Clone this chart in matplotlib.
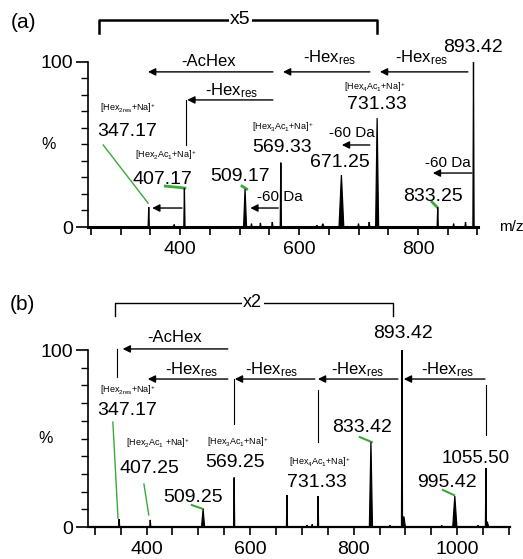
import matplotlib
matplotlib.use('Agg')
import matplotlib.pyplot as plt

# ---- panel (a): peaks
mz_a = [347.17, 390, 407.17, 509.17, 520, 535, 555, 569.33, 630, 640,
        671.25, 700, 718, 731.33, 833.25, 860, 880, 893.42]
int_a = [12, 1.5, 23.5, 23, 2, 2.5, 3, 39, 1, 2,
         31.5, 2, 3, 66, 12, 2, 3, 100]
hw_a = [1, 1, 1, 2.5, 1, 1, 1, 1, 2, 2, 4, 1, 1, 2.5, 1, 1, 1, 1]

# ---- panel (b): peaks
mz_b = [347.17, 407.25, 509.25, 569.25, 671.25, 710, 720, 731.33, 833.42,
        870, 893.42, 897, 970, 995.42, 1040, 1055.50, 1058]
int_b = [4.5, 4, 10, 28, 18, 1, 1.5, 17.5, 48,
         1, 100, 6, 1, 17.5, 1, 33.5, 3]
hw_b = [1, 1, 3, 1, 1, 1, 1, 1, 3, 1, 1, 3, 1, 4, 1, 1, 3]

ticks_a = [400, 600, 800]
ticks_b = [400, 600, 800, 1000]

plt.rcParams['font.family'] = 'Liberation Sans'
plt.rcParams['mathtext.fontset'] = 'custom'
plt.rcParams['mathtext.rm'] = 'Liberation Sans'
plt.rcParams['mathtext.it'] = 'Liberation Sans:italic'

GREEN = '#3aa83a'
BIG = 14
MID = 12
SMALL = 6.5

fig = plt.figure(figsize=(5.23, 5.59), dpi=100)
W, H = 523, 559
ax_a = fig.add_axes([88 / W, 1 - 227 / H, 390 / W, 217 / H])
ax_b = fig.add_axes([88 / W, 1 - 527 / H, 422 / W, 237 / H])


def setup(ax, xlim, ytop, ticks, base_lw):
    ax.set_xlim(*xlim)
    ax.set_ylim(0, ytop)
    for s in ['top', 'right']:
        ax.spines[s].set_visible(False)
    ax.spines['left'].set_bounds(0, 100)
    ax.spines['left'].set_linewidth(1.2)
    ax.spines['bottom'].set_linewidth(base_lw)
    ax.set_xticks(ticks)
    ax.set_xticks(range(int(xlim[0] // 50 + 1) * 50, int(xlim[1]) + 1, 50), minor=True)
    ax.set_yticks([0, 100])
    ax.set_yticks(range(10, 100, 10), minor=True)
    ax.tick_params(axis='x', which='both', direction='out', length=6, width=1.2,
                   labelsize=14, pad=4)
    ax.tick_params(axis='y', which='major', direction='out', length=9, width=1.2,
                   labelsize=14, pad=2)
    ax.tick_params(axis='y', which='minor', direction='out', length=5, width=1.0)
    ax.text(-0.1, 50, '%', transform=ax.get_yaxis_transform(), ha='center',
            va='center', fontsize=11.5)


def peaks(ax, mz, inten, hw):
    for m, h, w in zip(mz, inten, hw):
        ax.fill([m - w, m, m + w], [0, h, 0], color='k', lw=0.9, zorder=3)


def arrow(ax, x0, x1, y):
    ax.annotate('', xy=(x1, y), xytext=(x0, y),
                arrowprops=dict(arrowstyle='-|>', color='k', lw=1.0,
                                mutation_scale=11, shrinkA=0, shrinkB=0))


def txt(ax, x, y, s, size=BIG):
    ax.text(x, y, s, ha='center', va='center', fontsize=size)


hexres = r'-Hex$_{\mathrm{res}}$'

# ================= (a)
setup(ax_a, (245, 901), 131.5, ticks_a, 2.2)
peaks(ax_a, mz_a, int_a, hw_a)

ax_a.plot([264, 264, 731, 731], [117.6, 125.5, 125.5, 117.6], color='k', lw=1.8,
          clip_on=False)
ax_a.text(501, 125.5, 'x5', ha='center', va='center', fontsize=14,
          bbox=dict(fc='white', ec='none', pad=1))

txt(ax_a, 447, 100, '-AcHex', MID)
arrow(ax_a, 556, 346, 94)
txt(ax_a, 652, 102.4, hexres, MID)
arrow(ax_a, 719, 573, 94)
txt(ax_a, 806, 102.4, hexres, MID)
arrow(ax_a, 884, 736, 94)
txt(ax_a, 893, 109, '893.42')

txt(ax_a, 487, 82.4, hexres, MID)
arrow(ax_a, 556, 412, 77)
ax_a.plot([410, 410], [77, 49.7], color='k', lw=0.8)

txt(ax_a, 313, 72, r'[Hex$_{\mathrm{2res}}$+Na]$^{+}$', SMALL)
txt(ax_a, 311, 58, '347.17')
ax_a.plot([270.6, 346], [49.7, 14.5], color=GREEN, lw=1)

txt(ax_a, 375, 43.6, r'[Hex$_{2}$Ac$_{1}$+Na]$^{+}$', SMALL)
txt(ax_a, 371, 28.5, '407.17')
ax_a.plot([375, 408], [24.8, 23.6], color=GREEN, lw=2)
arrow(ax_a, 403, 353, 11.5)

txt(ax_a, 501, 30.3, '509.17')
ax_a.plot([504, 512], [24.8, 23], color=GREEN, lw=2)
txt(ax_a, 568, 18.2, '-60 Da', 11)
arrow(ax_a, 565, 518, 11.5)

txt(ax_a, 573, 60.6, r'[Hex$_{3}$Ac$_{1}$+Na]$^{+}$', SMALL)
txt(ax_a, 571, 47.9, '569.33')

txt(ax_a, 689, 57, '-60 Da', 11)
arrow(ax_a, 719, 672, 49.7)
txt(ax_a, 669, 38.8, '671.25')

txt(ax_a, 728, 84.8, r'[Hex$_{4}$Ac$_{1}$+Na]$^{+}$', SMALL)
txt(ax_a, 731, 74, '731.33')

txt(ax_a, 850, 38.8, '-60 Da', 11)
arrow(ax_a, 891, 825, 32.7)
txt(ax_a, 825, 18.2, '833.25')
ax_a.plot([823.5, 832], [15.2, 12.1], color=GREEN, lw=2)

ax_a.text(1.085, 0, 'm/z', transform=ax_a.get_yaxis_transform(), ha='center',
          va='center', fontsize=11)
fig.text(23 / W, 1 - 22 / H, '(a)', ha='center', va='center', fontsize=15)

# ================= (b)
setup(ax_b, (287, 1102), 133.9, ticks_b, 1.6)
peaks(ax_b, mz_b, int_b, hw_b)

ax_b.plot([339, 339, 876, 876], [119.2, 126.6, 126.6, 119.2], color='k', lw=1.0,
          clip_on=False)
ax_b.text(605, 126.6, 'x2', ha='center', va='center', fontsize=13,
          bbox=dict(fc='white', ec='none', pad=1))
txt(ax_b, 895, 109.6, '893.42')

txt(ax_b, 455, 107.3, '-AcHex', MID)
arrow(ax_b, 557, 354, 100.6)
ax_b.plot([343, 343], [100.6, 84.7], color='k', lw=0.8)

for xc in [487.5, 642, 808, 982]:
    txt(ax_b, xc, 88.7, hexres, MID)
arrow(ax_b, 557, 402.5, 83.6)
arrow(ax_b, 725, 570.6, 83.6)
arrow(ax_b, 885.5, 731, 83.6)
arrow(ax_b, 1053.6, 897, 83.6)
ax_b.plot([569, 569], [83.6, 58.2], color='k', lw=0.8)
ax_b.plot([731, 731], [77.4, 48], color='k', lw=0.8)
ax_b.plot([1055.5, 1055.5], [80.2, 52], color='k', lw=0.8)

txt(ax_b, 364, 77.4, r'[Hex$_{\mathrm{2res}}$+Na]$^{+}$', SMALL)
txt(ax_b, 362, 66, '347.17')
ax_b.plot([335, 345], [59.3, 5], color=GREEN, lw=1)

txt(ax_b, 422, 47.5, r'[Hex$_{2}$Ac$_{1}$ +Na]$^{+}$', SMALL)
txt(ax_b, 406, 33.3, '407.25')
ax_b.plot([395, 404.4], [24.3, 6.8], color=GREEN, lw=1)

txt(ax_b, 490, 16.4, '509.25')
ax_b.plot([487.5, 509], [12.4, 10.2], color=GREEN, lw=1.5)

txt(ax_b, 576, 48, r'[Hex$_{3}$Ac$_{1}$+Na]$^{+}$', SMALL)
txt(ax_b, 570.6, 36.2, '569.25')

txt(ax_b, 735, 36.7, r'[Hex$_{4}$Ac$_{1}$+Na]$^{+}$', SMALL)
txt(ax_b, 729, 25.4, '731.33')

txt(ax_b, 816, 56, '833.42')
ax_b.plot([812, 835], [50.8, 48], color=GREEN, lw=1.5)

ax_b.text(1.0, 38.5, '1055.50', transform=ax_b.get_yaxis_transform(),
          ha='right', va='center', fontsize=13.5, zorder=5,
          bbox=dict(fc='white', ec='none', pad=0.3))
txt(ax_b, 980, 25.4, '995.42')
ax_b.plot([972.5, 994], [20.9, 18], color=GREEN, lw=1.5)

fig.text(22 / W, 1 - 305 / H, '(b)', ha='center', va='center', fontsize=15)

fig.savefig('out.png', dpi=100)
